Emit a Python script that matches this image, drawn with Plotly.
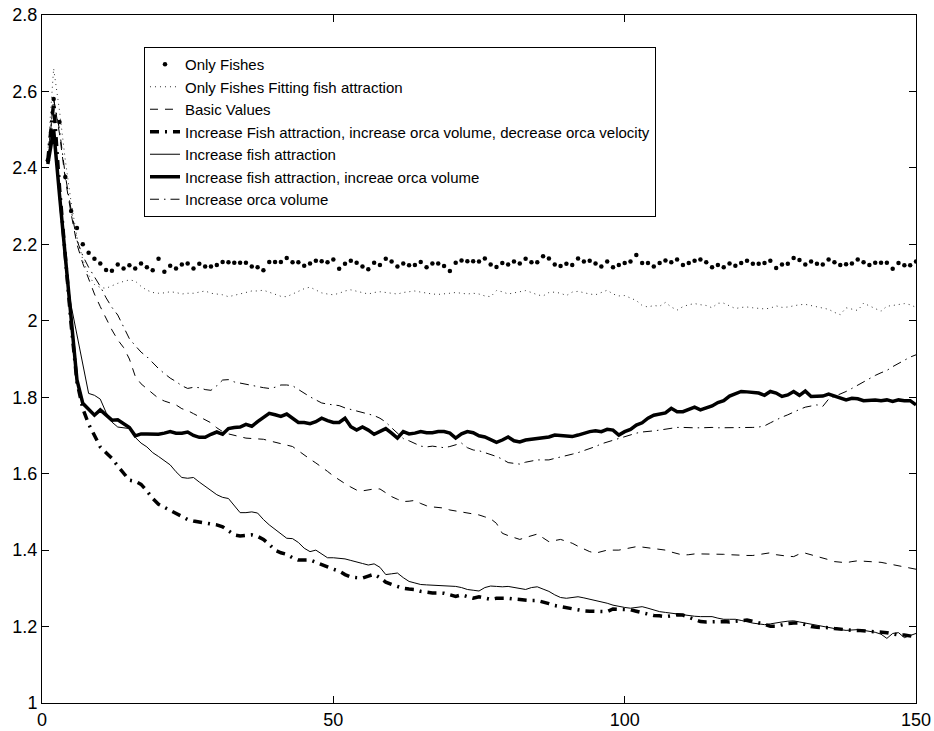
import plotly.graph_objects as go

iterations = list(range(1, 151))

only_fishes = [
2.42,2.58,2.52,2.376,2.287,2.243,2.20,2.178,2.162,2.150,
2.133,2.131,2.147,2.137,2.145,2.137,2.150,2.140,2.132,2.162,
2.128,2.144,2.137,2.147,2.150,2.137,2.149,2.142,2.142,2.146,
2.154,2.153,2.152,2.152,2.152,2.142,2.140,2.132,2.154,2.154,
2.154,2.164,2.153,2.153,2.144,2.150,2.157,2.156,2.153,2.160,
2.136,2.149,2.157,2.152,2.142,2.135,2.152,2.146,2.162,2.155,
2.142,2.150,2.145,2.146,2.154,2.140,2.150,2.150,2.143,2.130,
2.152,2.158,2.156,2.156,2.155,2.163,2.147,2.141,2.151,2.147,
2.155,2.150,2.162,2.153,2.153,2.169,2.163,2.147,2.143,2.149,
2.146,2.163,2.155,2.157,2.150,2.142,2.155,2.140,2.146,2.151,
2.155,2.172,2.151,2.151,2.142,2.151,2.158,2.153,2.160,2.146,
2.151,2.157,2.160,2.153,2.140,2.146,2.140,2.150,2.144,2.151,
2.157,2.149,2.149,2.151,2.157,2.138,2.147,2.149,2.164,2.159,
2.147,2.155,2.149,2.147,2.160,2.153,2.146,2.148,2.150,2.160,
2.153,2.146,2.152,2.152,2.152,2.136,2.151,2.145,2.145,2.155]

only_fishes_fitting = [
2.44,2.66,2.55,2.42,2.31,2.22,2.16,2.12,2.095,2.087,
2.085,2.092,2.098,2.103,2.107,2.104,2.09,2.08,2.074,2.072,
2.073,2.076,2.074,2.07,2.072,2.072,2.075,2.078,2.072,2.07,
2.068,2.063,2.066,2.07,2.074,2.078,2.078,2.08,2.075,2.068,
2.064,2.063,2.07,2.078,2.084,2.088,2.08,2.073,2.07,2.068,
2.072,2.078,2.081,2.077,2.072,2.07,2.074,2.076,2.074,2.072,
2.07,2.074,2.077,2.078,2.075,2.072,2.07,2.069,2.07,2.072,
2.074,2.072,2.07,2.072,2.07,2.065,2.063,2.079,2.076,2.07,
2.073,2.076,2.079,2.074,2.068,2.065,2.074,2.075,2.072,2.066,
2.075,2.077,2.073,2.07,2.068,2.074,2.08,2.07,2.065,2.066,
2.06,2.053,2.04,2.036,2.04,2.038,2.048,2.036,2.028,2.037,
2.042,2.045,2.042,2.04,2.034,2.046,2.046,2.04,2.032,2.035,
2.036,2.034,2.032,2.031,2.033,2.039,2.035,2.036,2.039,2.042,
2.043,2.04,2.038,2.035,2.03,2.022,2.016,2.034,2.03,2.027,
2.046,2.04,2.032,2.025,2.038,2.04,2.043,2.045,2.042,2.035]

basic_values = [
2.42,2.58,2.49,2.37,2.28,2.20,2.15,2.11,2.07,2.037,
2.005,1.976,1.95,1.93,1.90,1.855,1.835,1.823,1.81,1.797,
1.79,1.786,1.78,1.77,1.765,1.757,1.749,1.74,1.733,1.72,
1.71,1.704,1.70,1.697,1.693,1.692,1.691,1.69,1.686,1.682,
1.679,1.675,1.671,1.66,1.648,1.638,1.628,1.618,1.606,1.594,
1.583,1.574,1.565,1.557,1.555,1.558,1.56,1.56,1.55,1.54,
1.533,1.527,1.528,1.53,1.522,1.516,1.513,1.511,1.51,1.505,
1.502,1.50,1.498,1.495,1.492,1.487,1.482,1.47,1.444,1.438,
1.434,1.428,1.433,1.438,1.442,1.432,1.422,1.425,1.428,1.423,
1.418,1.41,1.402,1.396,1.392,1.396,1.40,1.40,1.40,1.403,
1.406,1.409,1.408,1.406,1.404,1.402,1.40,1.395,1.39,1.387,
1.388,1.39,1.39,1.39,1.39,1.39,1.389,1.388,1.387,1.386,
1.386,1.386,1.388,1.39,1.393,1.388,1.385,1.384,1.383,1.39,
1.392,1.388,1.385,1.38,1.375,1.37,1.369,1.367,1.37,1.372,
1.371,1.37,1.37,1.368,1.365,1.362,1.36,1.357,1.353,1.35]

inc_att_vol_dec_vel = [
2.42,2.57,2.35,2.16,1.99,1.84,1.77,1.73,1.70,1.67,
1.655,1.64,1.62,1.60,1.583,1.58,1.572,1.555,1.535,1.52,
1.512,1.506,1.497,1.488,1.48,1.476,1.474,1.471,1.47,1.466,
1.461,1.45,1.44,1.437,1.438,1.44,1.436,1.428,1.415,1.40,
1.393,1.389,1.38,1.374,1.374,1.374,1.368,1.361,1.356,1.35,
1.345,1.336,1.33,1.328,1.327,1.332,1.337,1.328,1.316,1.31,
1.305,1.30,1.298,1.297,1.292,1.289,1.288,1.288,1.287,1.283,
1.279,1.283,1.278,1.274,1.278,1.274,1.271,1.274,1.275,1.274,
1.272,1.27,1.268,1.268,1.268,1.265,1.26,1.255,1.252,1.25,
1.247,1.244,1.241,1.24,1.24,1.239,1.239,1.246,1.245,1.244,
1.244,1.24,1.236,1.232,1.229,1.228,1.226,1.228,1.231,1.23,
1.224,1.218,1.213,1.212,1.213,1.214,1.213,1.212,1.214,1.216,
1.217,1.214,1.21,1.205,1.201,1.201,1.205,1.208,1.209,1.209,
1.205,1.2,1.198,1.198,1.197,1.195,1.193,1.191,1.19,1.19,
1.189,1.188,1.187,1.186,1.184,1.181,1.178,1.178,1.176,1.173]

inc_att = [
2.43,2.50,2.33,2.15,2.04,1.96,1.88,1.81,1.805,1.795,
1.76,1.735,1.722,1.72,1.718,1.695,1.68,1.67,1.655,1.645,
1.634,1.623,1.605,1.59,1.588,1.59,1.578,1.566,1.556,1.545,
1.538,1.535,1.515,1.498,1.498,1.50,1.497,1.48,1.466,1.455,
1.442,1.431,1.43,1.42,1.405,1.396,1.40,1.39,1.38,1.38,
1.379,1.377,1.373,1.37,1.365,1.361,1.364,1.355,1.336,1.338,
1.34,1.328,1.318,1.314,1.31,1.309,1.308,1.307,1.306,1.305,
1.305,1.302,1.297,1.295,1.293,1.302,1.306,1.305,1.304,1.305,
1.303,1.30,1.297,1.302,1.304,1.298,1.292,1.283,1.276,1.274,
1.276,1.278,1.275,1.272,1.268,1.264,1.261,1.256,1.252,1.25,
1.248,1.25,1.252,1.248,1.243,1.239,1.237,1.235,1.232,1.23,
1.228,1.227,1.226,1.226,1.226,1.222,1.219,1.219,1.219,1.216,
1.212,1.209,1.207,1.205,1.207,1.21,1.212,1.214,1.215,1.212,
1.209,1.206,1.203,1.2,1.197,1.194,1.192,1.19,1.191,1.192,
1.19,1.188,1.185,1.18,1.169,1.182,1.184,1.171,1.176,1.182]

inc_att_vol = [
2.41,2.50,2.33,2.16,2.00,1.845,1.784,1.767,1.753,1.767,
1.753,1.740,1.741,1.732,1.721,1.699,1.704,1.704,1.703,1.703,
1.706,1.710,1.706,1.706,1.709,1.700,1.695,1.695,1.703,1.709,
1.703,1.718,1.721,1.722,1.729,1.724,1.736,1.747,1.758,1.754,
1.750,1.756,1.745,1.734,1.734,1.731,1.736,1.745,1.739,1.734,
1.734,1.745,1.723,1.714,1.722,1.714,1.703,1.710,1.718,1.706,
1.693,1.710,1.704,1.706,1.710,1.707,1.707,1.710,1.710,1.706,
1.693,1.704,1.710,1.707,1.699,1.696,1.688,1.682,1.688,1.696,
1.686,1.683,1.688,1.690,1.690,1.692,1.696,1.701,1.699,1.699,
1.697,1.701,1.706,1.710,1.712,1.710,1.716,1.714,1.701,1.710,
1.716,1.727,1.733,1.745,1.753,1.756,1.759,1.771,1.762,1.762,
1.767,1.774,1.767,1.771,1.777,1.786,1.791,1.803,1.808,1.815,
1.814,1.813,1.811,1.805,1.815,1.811,1.802,1.806,1.815,1.805,
1.816,1.802,1.803,1.803,1.808,1.803,1.796,1.793,1.797,1.796,
1.791,1.793,1.793,1.791,1.793,1.789,1.793,1.791,1.791,1.780]

inc_orca_vol = [
2.42,2.58,2.50,2.38,2.29,2.21,2.17,2.14,2.115,2.09,
2.06,2.035,2.015,1.985,1.953,1.935,1.918,1.906,1.89,1.875,
1.862,1.85,1.841,1.83,1.823,1.826,1.825,1.82,1.818,1.83,
1.845,1.846,1.84,1.837,1.834,1.83,1.828,1.825,1.823,1.826,
1.832,1.832,1.83,1.82,1.81,1.801,1.793,1.785,1.782,1.78,
1.778,1.772,1.768,1.765,1.762,1.758,1.752,1.745,1.735,1.72,
1.705,1.692,1.686,1.678,1.672,1.67,1.672,1.67,1.668,1.671,
1.675,1.68,1.668,1.662,1.66,1.655,1.651,1.645,1.638,1.629,
1.627,1.625,1.63,1.634,1.636,1.636,1.636,1.64,1.643,1.646,
1.651,1.655,1.66,1.664,1.671,1.678,1.683,1.688,1.693,1.698,
1.703,1.706,1.709,1.71,1.712,1.714,1.716,1.718,1.721,1.721,
1.72,1.72,1.72,1.721,1.721,1.72,1.72,1.72,1.72,1.72,
1.72,1.721,1.722,1.725,1.733,1.741,1.748,1.754,1.762,1.768,
1.774,1.778,1.78,1.776,1.795,1.802,1.808,1.815,1.823,1.832,
1.84,1.85,1.857,1.864,1.87,1.88,1.888,1.898,1.905,1.911]

legend_names = [
    "Only Fishes",
    "Only Fishes Fitting fish attraction",
    "Basic Values",
    "Increase Fish attraction, increase orca volume, decrease orca velocity",
    "Increase fish attraction",
    "Increase fish attraction, increae orca volume",
    "Increase orca volume",
]

x_ticks = [0, 50, 100, 150]
y_ticks = [1, 1.2, 1.4, 1.6, 1.8, 2, 2.2, 2.4, 2.6, 2.8]
y_tick_text = ["1", "1.2", "1.4", "1.6", "1.8", "2", "2.2", "2.4", "2.6", "2.8"]

FONT = "Liberation Sans, Arial, Helvetica, sans-serif"

fig = go.Figure()
fig.add_trace(go.Scatter(x=iterations, y=only_fishes, mode="markers", name=legend_names[0],
                         marker=dict(color="black", size=4.5, symbol="circle")))
fig.add_trace(go.Scatter(x=iterations, y=only_fishes_fitting, mode="lines", name=legend_names[1],
                         line=dict(color="#333333", width=1, dash="1px,4px")))
fig.add_trace(go.Scatter(x=iterations, y=basic_values, mode="lines", name=legend_names[2],
                         line=dict(color="black", width=1, dash="8px,7px")))
fig.add_trace(go.Scatter(x=iterations, y=inc_att_vol_dec_vel, mode="lines", name=legend_names[3],
                         line=dict(color="black", width=3.5, dash="9px,6px,2px,6px")))
fig.add_trace(go.Scatter(x=iterations, y=inc_att, mode="lines", name=legend_names[4],
                         line=dict(color="black", width=1)))
fig.add_trace(go.Scatter(x=iterations, y=inc_att_vol, mode="lines", name=legend_names[5],
                         line=dict(color="black", width=3.5)))
fig.add_trace(go.Scatter(x=iterations, y=inc_orca_vol, mode="lines", name=legend_names[6],
                         line=dict(color="black", width=1, dash="9px,5px,1.5px,5px")))

axis_common = dict(showline=True, linecolor="black", linewidth=1, mirror="ticks",
                   ticks="inside", ticklen=7, tickcolor="black", tickwidth=1,
                   showgrid=False, zeroline=False, automargin=False,
                   ticklabeloverflow="allow",
                   tickfont=dict(family=FONT, size=18, color="black"))

fig.update_layout(
    template="none",
    width=934, height=731,
    margin=dict(l=42, r=18, t=15, b=28, pad=0),
    paper_bgcolor="white", plot_bgcolor="white",
    font=dict(family=FONT, color="black"),
    xaxis=dict(range=[0, 150], tickvals=x_ticks, **axis_common),
    yaxis=dict(range=[1, 2.8], tickvals=y_ticks, ticktext=y_tick_text, **axis_common),
    legend=dict(x=0.1167, y=0.9535, xanchor="left", yanchor="top",
                bgcolor="white", bordercolor="black", borderwidth=1,
                font=dict(family=FONT, size=15, color="black"),
                itemwidth=30, tracegroupgap=0),
    showlegend=True,
)

# remove the default 8px page margin so the figure fills the window exactly
fig.write_html("out.html",
               config={"displayModeBar": False},
               post_script="document.body.style.margin='0';document.body.style.overflow='hidden';")
